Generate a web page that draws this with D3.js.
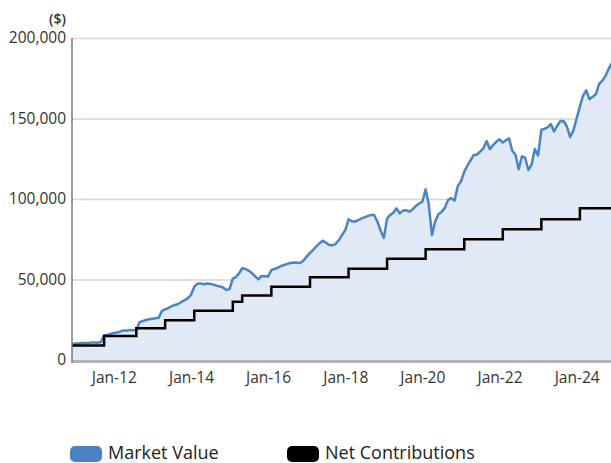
<!DOCTYPE html>
<html lang="en">
<head>
  <meta charset="UTF-8">
  <title>Market value vs net contributions</title>
  <style>
    body, html {
        margin: 0;
        padding: 0;
        background-color: #FFF;
        font-family: "Open Sans";
    }
    #chart {
        display: block;
    }
  </style>
</head>
<body>

<svg id="chart" width="611" height="463"></svg>

<script src="https://cdn.jsdelivr.net/npm/d3@7"></script>

<script>
/* global d3 */

// monthly market value, starting Dec 2010
var marketStart = "2010-12";
var marketValues = [
  10000,
  10200, 10300, 10500, 10600, 10500, 10800, 10900, 10700, 11200, 15200, 15600, 16200,
  16800, 17100, 17600, 18400, 18200, 18700, 18500, 18600, 23500, 24200, 24800, 25300,
  25600, 25900, 26200, 30500, 31500, 32200, 33400, 34200, 34800, 36000, 37200, 38300,
  40500, 45500, 47300, 47600, 47000, 47500, 47300, 46800, 46200, 45700, 45000, 43500,
  44000, 50500, 51500, 53800, 57000, 56500, 55500, 54000, 52000, 50100, 52200, 52000,
  51800, 55900, 56500, 57200, 58400, 59000, 59700, 60200, 60500, 60400, 60300, 61800,
  64200, 66500, 68300, 70500, 72400, 74100, 73000, 71400, 71200, 72000, 74500, 77600,
  80700, 87400, 86300, 85900, 86800, 87800, 88600, 89400, 90000, 90100, 86000, 80500,
  75800, 87800, 90000, 91500, 94200, 91100, 92800, 93000, 92100, 93500, 95700, 97200,
  98300, 106000, 97000, 77600, 86000, 90500, 92000, 94500, 99500, 100500, 99000, 108000,
  111000, 117000, 120500, 124000, 127300, 127500, 129500, 131500, 136000, 131000, 133500, 135500,
  137100, 135000, 136500, 137700, 130000, 127500, 118500, 126500, 125500, 118000, 121500, 131000,
  127000, 143000, 143500, 144500, 146500, 142000, 145500, 148500, 148300, 145000, 138500, 142500,
  150000, 157500, 164000, 167500, 162000, 163500, 165000, 171500, 173500, 176500, 181000, 184500
];

// net contributions, value from each date onwards
var contribDates = ["2010-12", "2011-10", "2012-08", "2013-05", "2014-02", "2015-02", "2015-05",
  "2016-02", "2017-02", "2018-02", "2019-02", "2020-02", "2021-02", "2022-02", "2023-02", "2024-02"];
var contribValues = [9000, 14900, 19700, 24700, 30600, 36200, 40000,
  45500, 51400, 56700, 62900, 68800, 75000, 81200, 87400, 94200];

var yTicks = [0, 50000, 100000, 150000, 200000];
var xTickLabels = ["Jan-12", "Jan-14", "Jan-16", "Jan-18", "Jan-20", "Jan-22", "Jan-24"];
var seriesNames = ["Market Value", "Net Contributions"];
var seriesColors = ["#4a84c6", "#000"];

var parseMonth = d3.timeParse("%Y-%m"),
  parseTick = d3.timeParse("%b-%y"),
  svg = d3.select("#chart"),
  plotLeft = 72, plotRight = 612, plotTop = 38, plotBottom = 360;

var x = d3.scaleTime()
  .domain([parseMonth("2010-12"), parseMonth("2024-12")])
  .range([plotLeft, plotRight]);
var y = d3.scaleLinear()
  .domain([0, 200000])
  .range([plotBottom, plotTop]);

var market = marketValues.map(function (v, i) {
  return {date: d3.timeMonth.offset(parseMonth(marketStart), i), value: v};
});
var contrib = contribDates.map(function (d, i) {
  return {date: parseMonth(d), value: contribValues[i]};
});
// carry the last level to the end of the axis
contrib.push({date: x.domain()[1], value: contribValues[contribValues.length - 1]});

svg.append("defs").append("clipPath").attr("id", "plot")
  .append("rect").attr("x", plotLeft).attr("y", 0).attr("width", 611 - plotLeft).attr("height", plotBottom);

// grid lines + y labels
var yAxis = svg.append("g")
  .attr("transform", "translate(" + plotLeft + ",0)")
  .call(d3.axisLeft(y).tickValues(yTicks).tickSize(-(611 - plotLeft)).tickPadding(6)
    .tickFormat(d3.format(",")));
yAxis.select(".domain").remove();
yAxis.selectAll(".tick line").attr("stroke", "#d6d6d6").attr("stroke-width", 1.5);
yAxis.selectAll(".tick text")
  .attr("font-family", "Open Sans").attr("font-size", 15.5).attr("fill", "#333");

svg.append("text")
  .attr("x", 66).attr("y", 24)
  .attr("text-anchor", "end")
  .attr("font-family", "Open Sans").attr("font-size", 14).attr("font-weight", 600)
  .attr("fill", "#333")
  .text("($)");

var plot = svg.append("g").attr("clip-path", "url(#plot)");

plot.append("path")
  .datum(market)
  .attr("fill", "#e1e9f5")
  .attr("d", d3.area()
    .x(function (d) { return x(d.date); })
    .y0(y(0))
    .y1(function (d) { return y(d.value); }));

plot.append("path")
  .datum(market)
  .attr("fill", "none")
  .attr("stroke", seriesColors[0])
  .attr("stroke-width", 2.5)
  .attr("stroke-linejoin", "round")
  .attr("d", d3.line()
    .x(function (d) { return x(d.date); })
    .y(function (d) { return y(d.value); }));

plot.append("path")
  .datum(contrib)
  .attr("fill", "none")
  .attr("stroke", seriesColors[1])
  .attr("stroke-width", 2.5)
  .attr("d", d3.line()
    .curve(d3.curveStepAfter)
    .x(function (d) { return x(d.date); })
    .y(function (d) { return y(d.value); }));

// axes lines
svg.append("line")
  .attr("x1", plotLeft).attr("x2", 611).attr("y1", plotBottom + 1.5).attr("y2", plotBottom + 1.5)
  .attr("stroke", "#b4b4b4").attr("stroke-width", 3);
svg.append("line")
  .attr("x1", plotLeft).attr("x2", plotLeft).attr("y1", plotTop).attr("y2", plotBottom + 3)
  .attr("stroke", "#7a7a7a").attr("stroke-width", 1.5);

// x labels
var xAxis = svg.append("g")
  .attr("transform", "translate(0," + plotBottom + ")")
  .call(d3.axisBottom(x).tickValues(xTickLabels.map(parseTick)).tickSize(0).tickPadding(12)
    .tickFormat(d3.timeFormat("%b-%y")));
xAxis.select(".domain").remove();
xAxis.selectAll(".tick text")
  .attr("font-family", "Open Sans").attr("font-size", 15.5).attr("fill", "#333");

// legend
var legend = svg.append("g");
var legendX = [70, 287];
seriesNames.forEach(function (name, i) {
  legend.append("rect")
    .attr("x", legendX[i]).attr("y", 446).attr("width", 32).attr("height", 16).attr("rx", 5)
    .attr("fill", i == 0 ? "#4a82c4" : "#000");
  legend.append("text")
    .attr("x", legendX[i] + 38).attr("y", 459)
    .attr("font-family", "Open Sans").attr("font-size", 18).attr("fill", "#222")
    .text(name);
});
</script>

</body>
</html>
